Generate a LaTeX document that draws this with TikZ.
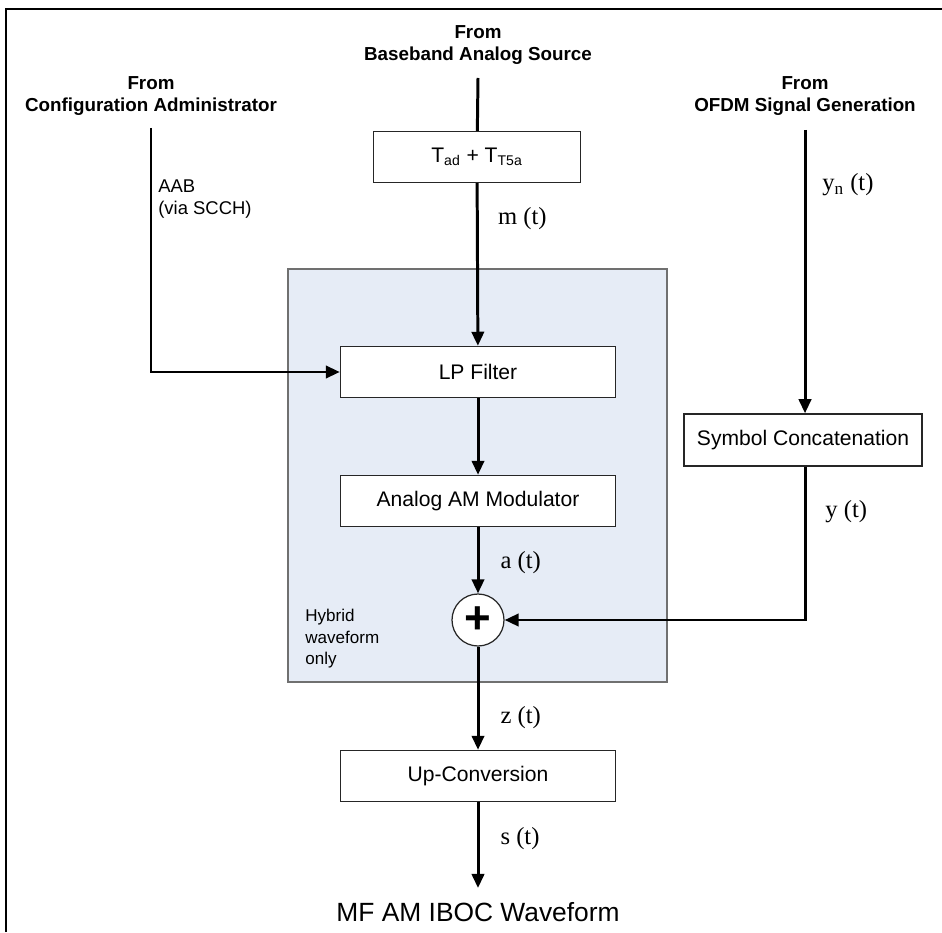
\documentclass[tikz,border=0pt]{standalone}
\usepackage{fontspec}
\setmainfont{Liberation Sans}
\newfontfamily\sigfont{Liberation Serif}
\usetikzlibrary{arrows.meta}
\definecolor{hybridbg}{HTML}{E6ECF6}
\definecolor{hybridln}{HTML}{707070}

\begin{document}
\begin{tikzpicture}[x=0.02cm,y=-0.02cm]
\tikzset{
  blk/.style={draw=black!85,line width=0.8pt,fill=white,minimum width=5.5cm,minimum height=1.02cm,
    font=\fontsize{12}{14}\selectfont,inner sep=0pt},
  src/.style={align=center,font=\bfseries\fontsize{10.7}{13}\selectfont},
  sig/.style={anchor=west,font=\sigfont\fontsize{14}{16}\selectfont,inner sep=0pt},
  note/.style={anchor=north west,align=left,inner sep=0pt},
  flow/.style={line width=1.7pt,-{Triangle[length=8pt,width=7pt]}},
  wire/.style={line width=1.7pt}
}
\useasboundingbox (0,0) rectangle (942,932);
\draw[line width=0.9pt] (6,932) -- (6,9) -- (942,9);
\draw[draw=hybridln,fill=hybridbg,line width=0.6pt] (288,269) rectangle (667,682);

\node[src] (bbtxt) at (478,45) {From\\Baseband Analog Source};
\node[src] (cfgtxt) at (151,96) {From\\Configuration Administrator};
\node[src] (ofdmtxt) at (805,96) {From\\OFDM Signal Generation};

\coordinate (bbsrc) at (478,78);
\coordinate (cfg) at (151,128);
\coordinate (ofdm) at (805,130);
\coordinate (out) at (478,888);

\node[blk,minimum width=4.14cm] (tad) at (477,157) {T\textsubscript{ad} + T\textsubscript{T5a}};
\node[blk] (lpf) at (478,372) {LP Filter};
\node[blk] (mod) at (478,501) {Analog AM Modulator};
\node[blk,minimum width=4.76cm,minimum height=1.04cm] (symcat) at (803,440) {Symbol Concatenation};
\node[blk] (upc) at (478,776) {Up-Conversion};
\node[draw=black!85,line width=0.7pt,fill=white,circle,minimum size=1.04cm,inner sep=0pt,
  font=\bfseries\fontsize{26}{26}\selectfont] (sum) at (478,620) {+};

\node[note,font=\fontsize{10.5}{12.5}\selectfont] (aab) at (158,179) {AAB\\(via SCCH)};
\node[note,font=\fontsize{9.7}{12.2}\selectfont] (hyb) at (305,609) {Hybrid\\waveform\\only};
\node[font=\fontsize{15}{17}\selectfont] (wave) at (478,912) {MF AM IBOC Waveform};

\draw[wire] (bbsrc) -- (tad);
\draw[flow] (tad) -- (lpf) node[sig,pos=0.22,xshift=11pt] {m (t)};
\draw[flow] (cfg) |- (lpf);
\draw[flow] (lpf) -- (mod);
\draw[flow] (mod) -- (sum) node[sig,pos=0.53,xshift=12pt] {a (t)};
\draw[flow] (ofdm) -- (ofdm |- symcat.north);
\draw[flow] (symcat.south -| ofdm) |- (sum);
\draw[flow] (sum) -- (upc) node[sig,pos=0.69,xshift=12pt] {z (t)};
\draw[flow] (upc) -- (out) node[sig,pos=0.42,xshift=12pt] {s (t)};

\node[sig] (yn) at (822,185) {y\textsubscript{n} (t)};
\node[sig] (yt) at (825,512) {y (t)};
\end{tikzpicture}
\end{document}
